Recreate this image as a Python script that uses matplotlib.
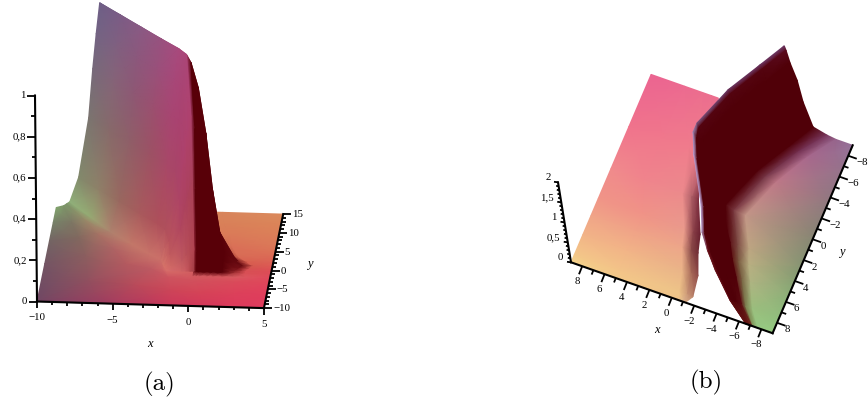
import numpy as np
import matplotlib
matplotlib.use("Agg")
import matplotlib.pyplot as plt
from matplotlib.colors import to_rgb

# ---- panel (a) ----
# flat floor in front of the ridge: last row runs along the foot of the wall
a_floor_x = [
    [-10, -10, -10, -10, -10, -5, -1, 1, 3, 5],
    [-9.5, -8.8, -8.1, -7.4, -6.9, -3.8, -1.4, 0.55, 2.8, 5],
    [-9.3, -8.0, -6.9, -5.7, -4.65, -2.9, -1.7, 0.2, 2.7, 5],
    [-9.1, -7.6, -6.1, -4.6, -3.3, -2.4, -1.9, -0.1, 2.6, 5],
]
a_floor_y = [
    [15, 11, 6, 0, -10, -10, -10, -10, -10, -10],
    [15, 11.45, 7.35, 2.7, -3.9, -4.7, -5.7, -6.2, -6.2, -6.2],
    [15, 11.8, 8.4, 4.8, 0.8, -0.4, -2.4, -3.2, -3.2, -3.2],
    [15, 12, 9, 6, 3.5, 2, -0.8, -0.8, -1.5, -1.5],
]
a_floor_z = [
    [0, 0, 0, 0, 0, 0, 0, 0, 0, 0],
    [0.01, 0, 0, 0, 0, 0, 0, 0, 0, 0],
    [0.02, 0.01, 0, 0, 0, 0, 0, 0, 0, 0],
    [0.03, 0.015, 0, 0, 0, 0, 0, 0, 0, 0],
]
a_floor_col = [
    ["#82a56e", "#768269", "#736464", "#735564", "#704664", "#a53c5f", "#cd375a", "#d4375a", "#dc3a5c", "#e13c5f"],
    ["#7d9669", "#7d7864", "#82695f", "#8c5f5f", "#91505f", "#b94b5a", "#cd4658", "#d54457", "#dc415a", "#e03e5c"],
    ["#7d9669", "#968c69", "#a57364", "#af6464", "#b45a5f", "#be5a62", "#cd555f", "#d2505c", "#da4b5a", "#e0465a"],
    ["#8fb07a", "#96aa73", "#af826e", "#c37869", "#c87369", "#cc7069", "#d76e69", "#d25f60", "#d85d62", "#e0485c"],
]

# rising wall, one row per y, from the foot up to the crest
a_wall_y = [15, 12, 9, 6, 3.5, 2, 1, 0.2, -0.5, -0.8]
a_wall_x = [
    [-9.1, -8.5, -7.8, -7.5, -7.25, -7.0],
    [-7.6, -7.0, -6.3, -6.0, -5.75, -5.5],
    [-6.1, -5.5, -4.8, -4.5, -4.25, -4.0],
    [-4.6, -4.0, -3.3, -3.0, -2.75, -2.5],
    [-3.3, -2.7, -2.0, -1.7, -1.45, -1.2],
    [-2.4, -2.1, -1.4, -1.1, -0.85, -0.6],
    [-2.25, -1.8, -1.1, -0.8, -0.55, -0.3],
    [-2.12, -1.7, -1.0, -0.7, -0.45, -0.2],
    [-1.97, -1.6, -0.9, -0.6, -0.35, -0.1],
    [-1.9, -1.6, -0.9, -0.6, -0.35, -0.1],
]
a_wall_z = [
    [0.03, 0.15, 0.44, 0.68, 0.85, 1.0],
    [0.015, 0.15, 0.44, 0.68, 0.85, 1.0],
    [0, 0.15, 0.44, 0.68, 0.85, 1.0],
    [0, 0.15, 0.44, 0.68, 0.85, 1.0],
    [0, 0.15, 0.44, 0.68, 0.85, 1.0],
    [0, 0.15, 0.44, 0.68, 0.85, 1.0],
    [0, 0.11, 0.32, 0.49, 0.61, 0.72],
    [0, 0.06, 0.18, 0.29, 0.36, 0.42],
    [0, 0.015, 0.04, 0.07, 0.085, 0.1],
    [0, 0, 0, 0, 0, 0],
]
a_wall_col = [
    ["#8fb07a", "#828a6c", "#7b7570", "#776a7a", "#736483", "#6e5f86"],
    ["#96aa73", "#8f8068", "#876a6a", "#856478", "#806080", "#7b5c85"],
    ["#af826e", "#99685f", "#8f5f68", "#8e5874", "#8c587c", "#8a5a84"],
    ["#c37869", "#a85a5c", "#9c5264", "#9c4f70", "#9a507a", "#98527f"],
    ["#c87369", "#ae505a", "#a84868", "#a84572", "#a84778", "#a84a7d"],
    ["#cc7069", "#b0505c", "#a84568", "#aa4270", "#aa4474", "#ab4678"],
    ["#d27369", "#b8525c", "#ad4466", "#ae416a", "#af416c", "#af416e"],
    ["#d77369", "#c05a5e", "#b0465e", "#ac425e", "#ab415c", "#aa415a"],
    ["#d76e69", "#cf6864", "#c05a60", "#b85058", "#b44a54", "#b04450"],
    ["#d76e69", "#d4686a", "#cf6264", "#ca5a60", "#b84a50", "#a03c44"],
]

# dark far side of the ridge and the floor behind it
a_back_y = [15, 12, 9, 6, 3.5, 2, 1, 0.2, -0.5, -1.0, -2.0]
a_back_x = [
    [-7.0, -6.7, -5.0, -2.5, -0.7, 0.0, 0.4, 1.0, 5],
    [-5.5, -5.2, -3.5, -1.8, -0.3, 0.4, 0.7, 1.3, 5],
    [-4.0, -3.7, -2.5, -1.2, 0.0, 0.6, 1.2, 1.8, 5],
    [-2.5, -2.2, -1.5, -0.7, 0.0, 0.7, 1.5, 2.1, 5],
    [-1.2, -0.9, -0.3, 0.2, 0.7, 1.1, 2.0, 2.6, 5],
    [-0.6, -0.3, 0.16, 0.63, 1.03, 1.49, 2.6, 3.3, 5],
    [-0.3, -0.05, 0.2, 0.7, 1.2, 1.8, 3.0, 3.7, 5],
    [-0.2, 0.0, 0.2, 0.7, 1.2, 1.8, 2.8, 3.5, 5],
    [-0.1, 0.1, 0.3, 0.8, 1.2, 1.8, 2.6, 3.3, 5],
    [-0.1, 0.1, 0.3, 0.8, 1.2, 1.8, 2.6, 3.3, 5],
    [-0.1, 0.1, 0.3, 0.8, 1.2, 1.8, 2.6, 3.3, 5],
]
a_back_z = [
    [1.0, 0.98, 0.6, 0.3, 0.1, 0.02, 0, 0, 0],
    [1.0, 0.98, 0.6, 0.3, 0.12, 0.02, 0, 0, 0],
    [1.0, 0.98, 0.65, 0.35, 0.15, 0.03, 0, 0, 0],
    [1.0, 0.98, 0.7, 0.4, 0.18, 0.04, 0, 0, 0],
    [1.0, 0.97, 0.75, 0.45, 0.2, 0.05, 0, 0, 0],
    [1.0, 0.96, 0.84, 0.62, 0.35, 0.14, 0, 0, 0],
    [0.72, 0.66, 0.55, 0.38, 0.2, 0.06, 0, 0, 0],
    [0.42, 0.38, 0.3, 0.2, 0.1, 0.03, 0, 0, 0],
    [0.1, 0.09, 0.07, 0.05, 0.03, 0.01, 0, 0, 0],
    [0, 0, 0, 0, 0, 0, 0, 0, 0],
    [0, 0, 0, 0, 0, 0, 0, 0, 0],
]
dk = "#580008"
a_back_col = [
    ["#6e5f86", dk, dk, dk, dk, dk, "#d8855c", "#d8855c", "#db8a5c"],
    ["#7b5c85", dk, dk, dk, dk, dk, "#d98058", "#d98058", "#dc8458"],
    ["#8a5a84", dk, dk, dk, dk, dk, "#da7a58", "#da7a58", "#dc7e58"],
    ["#98527f", dk, dk, dk, dk, dk, "#c86850", "#da7057", "#dc7758"],
    ["#a84a7d", dk, dk, dk, dk, dk, "#903028", "#d86c55", "#dc6955"],
    ["#ab4678", dk, dk, dk, dk, dk, "#6a0c12", "#d86050", "#dc5f55"],
    ["#af416e", dk, dk, dk, dk, dk, "#6a0c12", "#d65a50", "#de5855"],
    ["#aa415a", dk, dk, dk, dk, dk, "#7a1218", "#d65252", "#de5055"],
    ["#8a2030", dk, dk, dk, dk, dk, "#8a2024", "#d85055", "#de4c58"],
    ["#7a1820", dk, dk, dk, dk, dk, "#a83538", "#d85055", "#de4c58"],
    ["#d05a60", "#d25a60", "#d25a60", "#d45a60", "#d65a60", "#d85a60", "#d85d62", "#dc5660", "#e0485c"],
]

# ---- panel (b) ----
# left part of the surface, up to the trough
b_left_y = [-9, -4, 0, 2.9, 4.5, 6.4, 8.3, 9]
b_left_x = [
    [9, 6, 4.4, 3.6, 3.0],
    [9, 6, 3.6, 2.8, 2.2],
    [9, 6, 2.6, 1.8, 1.2],
    [9, 5, 1.3, 0.5, -0.1],
    [9, 5, 0.85, 0.05, -0.55],
    [9, 5, 0.1, -0.7, -1.3],
    [9, 5, -0.4, -1.1, -1.6],
    [9, 5, -0.6, -1.0, -1.2],
]
b_left_col = [
    ["#eb6491", "#ec6a90", "#ec6e8e", "#ec6e8e", "#ec6e8e"],
    ["#f0738c", "#f0788c", "#f07c8c", "#f07c8c", "#f07c8c"],
    ["#f08a8c", "#f0848c", "#ec8a8c", "#b06068", "#803040"],
    ["#f09587", "#f09387", "#ea9a8c", "#8a4048", "#6a2030"],
    ["#f0a487", "#f0a287", "#eda68a", "#8a4a48", "#702c34"],
    ["#f2b487", "#f2b487", "#eab488", "#a86a58", "#8f4a48"],
    ["#f3c888", "#f3c488", "#eec488", "#cc9878", "#b88068"],
    ["#f5d58c", "#f2c888", "#efc388", "#e0b890", "#dcb088"],
]

# dark wall from the crest down to its foot
b_wall_y = [-9, -6.7, -3.7, 0, 0.53, 1.1, 2, 2.7, 4, 5.4, 7.5, 9]
b_wall_x = [
    [-4.05, -4.15, -4.34, -4.74, -4.97, -5.53],
    [-2.8, -2.9, -3.09, -3.49, -3.72, -4.28],
    [-1.15, -1.25, -1.44, -1.84, -2.07, -2.63],
    [0.17, 0.07, -0.12, -0.52, -0.75, -1.31],
    [0.36, 0.11, -0.1, -0.5, -0.8, -1.45],
    [0.3, 0.05, -0.2, -0.55, -0.9, -1.7],
    [-0.13, -0.38, -0.55, -0.8, -1.2, -2.2],
    [-0.2, -0.45, -0.7, -1.2, -1.7, -2.7],
    [-1.2, -1.3, -1.5, -2.0, -2.5, -3.4],
    [-2.44, -2.5, -2.7, -3.1, -3.5, -4.3],
    [-4.6, -4.65, -4.7, -4.9, -5.1, -5.6],
    [-6.6, -6.65, -6.7, -6.8, -6.9, -7.1],
]
b_wall_z = [
    [2, 1.9, 1.6, 1.21, 0.687, 0.117],
    [2, 1.9, 1.6, 1.21, 0.687, 0.12],
    [2, 1.9, 1.6, 1.21, 0.687, 0.12],
    [2, 1.9, 1.6, 1.21, 0.687, 0.12],
    [1.9, 1.8, 1.5, 1.1, 0.6, 0.11],
    [1.5, 1.42, 1.2, 0.8, 0.45, 0.1],
    [0.5, 0.47, 0.4, 0.25, 0.15, 0.05],
    [0.02, 0.02, 0.02, 0.01, 0, 0],
    [0, 0, 0, 0, 0, 0],
    [0, 0, 0, 0, 0, 0],
    [0, 0, 0, 0, 0, 0],
    [0, 0, 0, 0, 0, 0],
]
dw = "#500008"
b_wall_col = [
    ["#6e3a66", "#5a0a1e", dw, dw, dw, dw],
    ["#6b3560", "#540410", dw, dw, dw, dw],
    ["#6b3560", "#540410", dw, dw, dw, dw],
    ["#7a5580", "#540410", dw, dw, dw, dw],
    ["#a08ab8", "#500008", dw, dw, dw, dw],
    ["#bba0d4", "#500008", dw, dw, dw, dw],
    ["#bba0d4", "#500008", dw, dw, dw, dw],
    ["#b49ac8", "#500008", dw, dw, dw, dw],
    ["#702028", "#600c14", dw, dw, dw, dw],
    ["#702028", "#600c14", dw, dw, dw, dw],
    ["#702028", "#600c14", dw, dw, dw, "#5a0a10"],
    ["#6a1c18", "#6a1c18", "#6a1c18", "#6a1c18", "#6a1c18", "#703020"],
]

# foot of the wall fading into the flat part on the right
b_flat_y = [-9, -6.7, -3.7, 0, 2.7, 4, 5.4, 7.5, 9]
b_flat_x = [
    [-5.0, -5.53, -6.73, -7.5, -9],
    [-3.8, -4.28, -5.0, -5.9, -9],
    [-2.1, -2.63, -3.3, -4.3, -9],
    [-0.8, -1.31, -2.0, -3.0, -9],
    [-2.2, -2.7, -3.4, -4.4, -9],
    [-2.9, -3.4, -4.0, -4.9, -9],
    [-3.8, -4.3, -4.85, -5.6, -9],
    [-5.1, -5.6, -6.0, -6.6, -9],
    [-6.6, -7.1, -7.3, -7.7, -9],
]
b_flat_z = [
    [0.2, 0.117, 0.03, 0, 0],
    [0.2, 0.12, 0.03, 0, 0],
    [0.2, 0.12, 0.03, 0, 0],
    [0.2, 0.12, 0.03, 0, 0],
    [0, 0, 0, 0, 0],
    [0, 0, 0, 0, 0],
    [0, 0, 0, 0, 0],
    [0, 0, 0, 0, 0],
    [0, 0, 0, 0, 0],
]
b_flat_col = [
    [dw, dw, "#7a3a60", "#96648c", "#96739b"],
    [dw, dw, "#743050", "#a8688c", "#96738c"],
    [dw, dw, "#783848", "#be7887", "#917880"],
    [dw, dw, "#7a3840", "#c39687", "#878773"],
    [dw, "#5c1016", "#7c4a42", "#bea682", "#879673"],
    [dw, "#5c1010", "#7a5a40", "#b9af82", "#87a073"],
    [dw, "#601818", "#7a6444", "#afb482", "#8caf78"],
    [dw, "#5a0a10", "#7a7a4c", "#9bbe7d", "#91be7d"],
    ["#6a1c18", "#703020", "#85a060", "#96c882", "#96cd82"],
]

a_x_ticks = [-10, -5, 0, 5]
a_x_labels = ["\u221210", "\u22125", "0", "5"]
a_y_ticks = [-10, -5, 0, 5, 10, 15]
a_y_labels = ["\u221210", "\u22125", "0", "5", "10", "15"]
a_z_ticks = [0, 0.2, 0.4, 0.6, 0.8, 1]
a_z_labels = ["0", "0,2", "0,4", "0,6", "0,8", "1"]

b_x_ticks = [8, 6, 4, 2, 0, -2, -4, -6, -8]
b_x_labels = ["8", "6", "4", "2", "0", "\u22122", "\u22124", "\u22126", "\u22128"]
b_y_ticks = [-8, -6, -4, -2, 0, 2, 4, 6, 8]
b_y_labels = ["\u22128", "\u22126", "\u22124", "\u22122", "0", "2", "4", "6", "8"]
b_z_ticks = [0, 0.5, 1, 1.5, 2]
b_z_labels = ["0", "0,5", "1", "1,5", "2"]


def proj_a(x, y, z):
    x, y, z = np.asarray(x, float), np.asarray(y, float), np.asarray(z, float)
    sx = 37 + 15.13 * (x + 10) + 0.77 * (y + 10) - 2.0 * z
    sy = 301.5 + 0.44 * (x + 10) - 3.76 * (y + 10) - 206 * z
    return sx, sy


def proj_b(x, y, z):
    x, y, z = np.asarray(x, float), np.asarray(y, float), np.asarray(z, float)
    sx = 571 + 11.2 * (9 - x) + 4.45 * (9 - y) - 6.5 * z
    sy = 262.3 + 3.94 * (9 - x) - 10.44 * (9 - y) - 40 * z
    return sx, sy


def draw_mesh(ax, proj, xs, ys, zs, cols):
    xs = np.array(xs, float)
    ys = np.array(ys, float)
    if ys.ndim == 1:
        ys = np.repeat(ys[:, None], xs.shape[1], axis=1)
    zs = np.zeros_like(xs) if zs is None else np.array(zs, float)
    rgb = np.array([[to_rgb(c) for c in row] for row in cols])
    sx, sy = proj(xs, ys, zs)
    ax.pcolormesh(sx, sy, rgb, shading="gouraud", zorder=2)


def tick_line(ax, x0, y0, dx, dy):
    ax.plot([x0, x0 + dx], [y0, y0 + dy], color="black", lw=1.3,
            solid_capstyle="butt", zorder=4)


fig = plt.figure(figsize=(8.68, 4.04), dpi=100)
ax = fig.add_axes([0, 0, 1, 1])
ax.set_xlim(0, 868)
ax.set_ylim(404, 0)
ax.axis("off")

serif = "Liberation Serif"
tick_fs = 7.8

# panel (a)
draw_mesh(ax, proj_a, a_floor_x, a_floor_y, a_floor_z, a_floor_col)
draw_mesh(ax, proj_a, a_back_x, a_back_y, a_back_z, a_back_col)
draw_mesh(ax, proj_a, a_wall_x, a_wall_y, a_wall_z, a_wall_col)

sx, sy = proj_a([-10, 5], [-10, -10], [0, 0])
ax.plot(sx, sy, color="black", lw=1.5, zorder=5)
sx, sy = proj_a([5, 5], [-10, 15], [0, 0])
ax.plot(sx, sy, color="black", lw=1.5, zorder=5)
sx, sy = proj_a([-10, -10], [-10, -10], [0, 1])
ax.plot(sx, sy, color="black", lw=1.5, zorder=5)

for v in range(-10, 6):
    px, py = proj_a(v, -10, 0)
    tick_line(ax, px, py, 0, 6.5 if v % 5 == 0 else 3.2)
for v in range(-10, 16):
    px, py = proj_a(5, v, 0)
    tick_line(ax, px, py, 8 if v % 5 == 0 else 4, 0)
for v in range(0, 11):
    px, py = proj_a(-10, -10, v / 10)
    tick_line(ax, px, py, -8 if v % 2 == 0 else -4, 0)

for v, s in zip(a_x_ticks, a_x_labels):
    px, py = proj_a(v, -10, 0)
    ax.text(px, py + 16.5, s, ha="center", va="center", family=serif, fontsize=tick_fs)
for v, s in zip(a_y_ticks, a_y_labels):
    px, py = proj_a(5, v, 0)
    ax.text(px + 9, py + 0.5, s, ha="left", va="center", family=serif, fontsize=tick_fs)
for v, s in zip(a_z_ticks, a_z_labels):
    px, py = proj_a(-10, -10, v)
    ax.text(px - 9.5, py, s, ha="right", va="center", family=serif, fontsize=tick_fs)

ax.text(150, 344, "x", ha="center", va="center", family=serif, style="italic", fontsize=9)
ax.text(310, 264, "y", ha="center", va="center", family=serif, style="italic", fontsize=9)
ax.text(159, 384, "(a)", ha="center", va="center", family="cmr10", fontsize=18)

# panel (b)
draw_mesh(ax, proj_b, b_left_x, b_left_y, None, b_left_col)
draw_mesh(ax, proj_b, b_flat_x, b_flat_y, b_flat_z, b_flat_col)
draw_mesh(ax, proj_b, b_wall_x, b_wall_y, b_wall_z, b_wall_col)

sx, sy = proj_b([9, -9], [9, 9], [0, 0])
ax.plot(sx, sy, color="black", lw=1.5, zorder=5)
sx, sy = proj_b([-9, -9], [9, -9], [0, 0])
ax.plot(sx, sy, color="black", lw=1.5, zorder=5)
sx, sy = proj_b([9, 9], [9, 9], [0, 2])
ax.plot(sx, sy, color="black", lw=1.5, zorder=5)

for v in range(-8, 9):
    px, py = proj_b(v, 9, 0)
    ln = 1.0 if v % 2 == 0 else 0.55
    tick_line(ax, px, py, -3.2 * ln, 8 * ln)
for v in range(-8, 9):
    px, py = proj_b(-9, v, 0)
    ln = 1.0 if v % 2 == 0 else 0.55
    tick_line(ax, px, py, 8.5 * ln, 3.0 * ln)
for v in range(0, 21):
    px, py = proj_b(9, 9, v / 10)
    tick_line(ax, px, py, (-4 if v % 5 == 0 else -2.5), -0.5)

for v, s in zip(b_x_ticks, b_x_labels):
    px, py = proj_b(v, 9, 0)
    ax.text(px - 5, py + 15.5, s, ha="center", va="center", family=serif, fontsize=tick_fs)
for v, s in zip(b_y_ticks, b_y_labels):
    px, py = proj_b(-9, v, 0)
    ax.text(px + 8, py + 7, s, ha="left", va="center", family=serif, fontsize=tick_fs)
for v, s in zip(b_z_ticks, b_z_labels):
    px, py = proj_b(9, 9, v)
    ax.text(px - 7.5, py - 4.5, s, ha="right", va="center", family=serif, fontsize=tick_fs)

ax.text(656.5, 330, "x", ha="center", va="center", family=serif, style="italic", fontsize=9)
ax.text(842, 252.5, "y", ha="center", va="center", family=serif, style="italic", fontsize=9)
ax.text(706.5, 382, "(b)", ha="center", va="center", family="cmr10", fontsize=18)

fig.savefig("out.png", dpi=100)
